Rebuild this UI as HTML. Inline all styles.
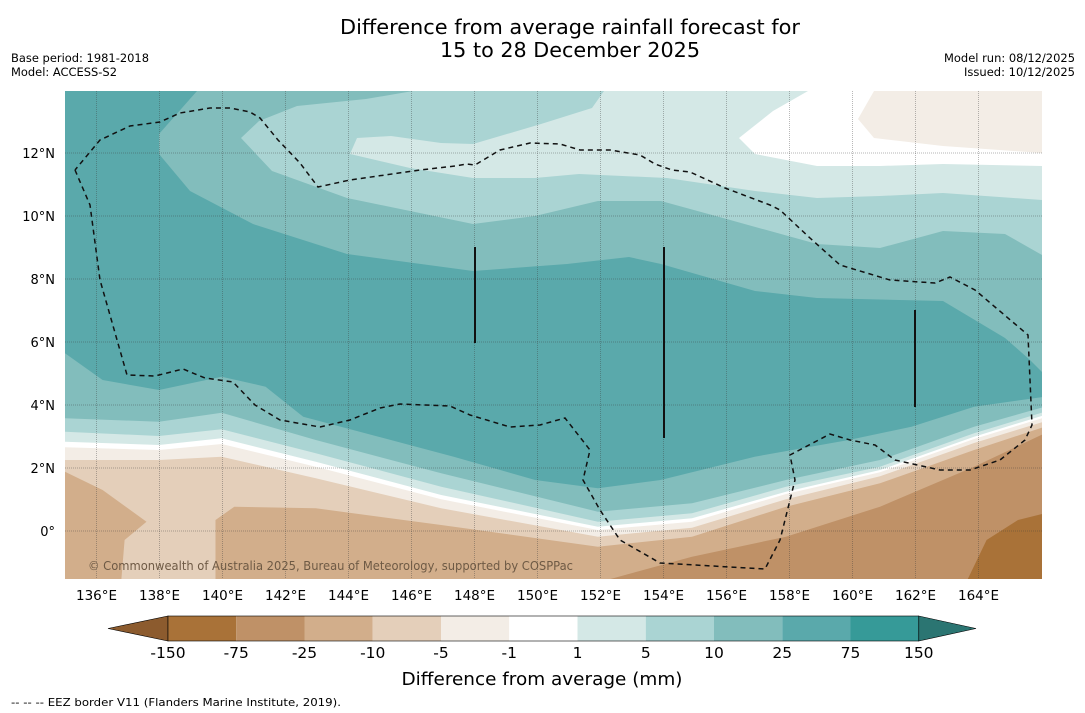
<!DOCTYPE html>
<html><head><meta charset="utf-8">
<style>
body{margin:0;background:#fff;width:1085px;height:713px;overflow:hidden;font-family:"DejaVu Sans","Liberation Sans",sans-serif;}
svg{position:absolute;left:0;top:0}
</style></head>
<body>
<svg id="chart" width="1085" height="713" viewBox="0 0 1085 713" xmlns="http://www.w3.org/2000/svg" font-family="DejaVu Sans, Liberation Sans, sans-serif">
<defs><clipPath id="mapclip"><rect x="65" y="91" width="977" height="488"/></clipPath></defs>
<text x="570" y="34" text-anchor="middle" font-size="20" textLength="460" lengthAdjust="spacingAndGlyphs" fill="#000">Difference from average rainfall forecast for</text>
<text x="570" y="57" text-anchor="middle" font-size="20" textLength="260" lengthAdjust="spacingAndGlyphs" fill="#000">15 to 28 December 2025</text>
<text x="11" y="62" font-size="11.5" textLength="138" lengthAdjust="spacingAndGlyphs">Base period: 1981-2018</text>
<text x="11" y="76" font-size="11.5" textLength="106" lengthAdjust="spacingAndGlyphs">Model: ACCESS-S2</text>
<text x="1075" y="62" font-size="11.5" text-anchor="end" textLength="131" lengthAdjust="spacingAndGlyphs">Model run: 08/12/2025</text>
<text x="1075" y="76" font-size="11.5" text-anchor="end" textLength="111" lengthAdjust="spacingAndGlyphs">Issued: 10/12/2025</text>
<g id="map" clip-path="url(#mapclip)">
<rect x="65" y="91" width="977" height="488" fill="#5aa9ab"/>
</g>
<g id="axes"></g>
<g id="colorbar"></g>
<text x="542" y="685" text-anchor="middle" font-size="18" textLength="281" lengthAdjust="spacingAndGlyphs">Difference from average (mm)</text>
<text x="11" y="706" font-size="11" textLength="330" lengthAdjust="spacingAndGlyphs">--  --  -- EEZ border V11 (Flanders Marine Institute, 2019).</text>
</svg>
<script>
const lonTicks=[136,138,140,142,144,146,148,150,152,154,156,158,160,162,164];
const latTicks=[0,2,4,6,8,10,12];
const levels=["-150","-75","-25","-10","-5","-1","1","5","10","25","75","150"];
const binColors=["#a97238","#bf9167","#d2ae8b","#e4cfba","#f3ede6","#ffffff","#d4e8e6","#aad4d3","#82bdbc","#5aa9ab","#369a98"];
const lowColor="#8c5b2e", highColor="#2b7572";
const NS="http://www.w3.org/2000/svg";
function lonX(l){return 65+(l-135)*31.5;}
function latY(l){return 531-l*31.5;}
function mk(tag,attrs,parent){const e=document.createElementNS(NS,tag);for(const k in attrs)e.setAttribute(k,attrs[k]);parent.appendChild(e);return e;}
const map=document.getElementById('map');
function z2(p){return [65+p[0]/1.595,340+p[1]/3];}
function poly(pts,fill,name){const e=mk('polygon',{points:pts.map(p=>p[0].toFixed(1)+','+p[1].toFixed(1)).join(' '),fill:fill},map);

}
poly([[197,91],[159,134],[159,154],[190,191],[253,224],[347,254],[473,271],[567,264],[629,257],[661,264],[755,291],[817,298],[943,301],[1005,338],[1030,360],[1042,372],[1042,91]],binColors[8],'contour-10-25-north');
poly([[413,91],[366,99],[297,106],[259,121],[241,138],[272,171],[347,198],[473,224],[535,216],[598,201],[661,201],[723,218],[817,244],[880,248],[943,231],[1005,234],[1042,255],[1042,91]],binColors[7],'contour-5-10-north');
poly([[604,91],[592,108],[541,124],[473,144],[441,143],[391,136],[357,138],[350,154],[410,168],[473,178],[535,178],[579,174],[667,178],[755,191],[817,198],[880,196],[943,193],[1042,200],[1042,91]],binColors[6],'contour-1-5-north');
poly([[808,91],[773,111],[739,138],[755,154],[817,166],[880,166],[943,164],[1042,166],[1042,91]],binColors[5],'contour-neutral-north');
poly([[874,91],[858,119],[874,138],[943,146],[1042,153],[1042,91]],binColors[4],'contour-dry-north');
const B=[0,717],C=[1563,717];
poly([[0,40],[60,120],[150,150],[250,110],[320,140],[380,230],[500,290],[620,350],[750,420],[850,445],[950,420],[1100,350],[1250,300],[1350,260],[1450,200],[1563,170],C,B].map(z2),binColors[8],'contour-10-25-south');
const xs=[0,150,250,400,600,850,1000,1150,1300,1450,1563];
const bands=[[235,245,218,300,400,515,490,420,360,260,200],[275,288,268,340,440,545,520,440,380,280,215],[305,315,295,365,465,560,535,455,390,290,225],[322,330,312,380,478,570,545,462,397,297,232],[360,360,350,415,505,590,563,478,409,309,244]];
const bandCols=[7,6,5,4,3];
bands.forEach((b,i)=>{poly(xs.map((x,j)=>[x,b[j]]).concat([C,B]).map(z2),binColors[bandCols[i]],'contour-band-south-'+i);});
poly([[0,395],[60,450],[130,545],[95,600],[90,717],[0,717]].map(z2),binColors[2],'contour-10-25-dry-west');
poly([[240,540],[270,500],[400,505],[600,555],[850,620],[1000,590],[1150,500],[1300,430],[1450,330],[1563,260],C,[240,717]].map(z2),binColors[2],'contour-10-25-dry-south');
poly([[870,717],[1000,650],[1150,590],[1300,500],[1450,380],[1563,280],C].map(z2),binColors[1],'contour-25-75-dry');
poly([[1440,717],[1470,600],[1520,540],[1563,520],C].map(z2),binColors[0],'contour-75-150-dry');
lonTicks.forEach(l=>{const g=mk('line',{x1:lonX(l),x2:lonX(l),y1:91,y2:579,stroke:'rgba(60,60,60,0.45)','stroke-width':0.8,'stroke-dasharray':'1,1'},map);

});
latTicks.forEach(l=>{const g=mk('line',{x1:65,x2:1042,y1:latY(l),y2:latY(l),stroke:'rgba(60,60,60,0.5)','stroke-width':0.8,'stroke-dasharray':'1,1'},map);

});
const eez=[[75,170],[90,205],[100,280],[127,375],[155,376],[183,369],[205,378],[233,382],[255,405],[280,420],[320,427],[350,420],[380,408],[400,404],[450,406],[470,415],[510,427],[540,425],[565,418],[590,450],[583,480],[600,510],[620,540],[660,563],[765,569],[780,540],[795,480],[790,455],[830,434],[850,440],[875,445],[895,460],[940,470],[970,470],[1000,460],[1025,440],[1032,425],[1028,335],[975,290],[950,277],[935,283],[890,280],[840,265],[810,238],[780,210],[770,205],[725,188],[690,172],[672,170],[655,164],[640,155],[610,150],[580,150],[560,144],[530,143],[500,150],[475,165],[467,164],[455,166],[420,170],[350,180],[318,187],[300,163],[278,140],[260,118],[250,112],[230,108],[210,108],[180,113],[160,122],[130,126],[100,140],[75,170]];
const ez=mk('polyline',{points:eez.map(p=>p.join(',')).join(' '),fill:'none',stroke:'#111','stroke-width':1.5,'stroke-dasharray':'5,4'},map);


[[475,247,343],[664,247,438],[915,310,407]].forEach((v,i)=>{const l=mk('line',{x1:v[0],x2:v[0],y1:v[1],y2:v[2],stroke:'#111','stroke-width':2},map);

});
const cp=mk('text',{x:88,y:570,'font-size':12,fill:'#6e5a45',textLength:485,lengthAdjust:'spacingAndGlyphs'},map);cp.textContent='© Commonwealth of Australia 2025, Bureau of Meteorology, supported by COSPPac';


const axes=document.getElementById('axes');
lonTicks.forEach(l=>{const t=mk('text',{x:lonX(l),y:600,'text-anchor':'middle','font-size':13,textLength:41,lengthAdjust:'spacingAndGlyphs'},axes);t.textContent=l+'°E';

});
latTicks.forEach(l=>{const t=mk('text',{x:55,y:latY(l)+5,'text-anchor':'end','font-size':13},axes);t.textContent=l===0?'0°':l+'°N';

});
const cb=document.getElementById('colorbar');
const cbX0=168,cbW=68.25,cbY=616,cbH=25;
const lt=mk('polygon',{points:`108,${cbY+cbH/2} ${cbX0},${cbY} ${cbX0},${cbY+cbH}`,fill:lowColor,stroke:'#000','stroke-width':0.6},cb);


binColors.forEach((c,i)=>{const r=mk('rect',{x:cbX0+i*cbW,y:cbY,width:cbW,height:cbH,fill:c},cb);

});
const xe=cbX0+binColors.length*cbW;
const rt=mk('polygon',{points:`${xe},${cbY} 976,${cbY+cbH/2} ${xe},${cbY+cbH}`,fill:highColor,stroke:'#000','stroke-width':0.6},cb);


mk('rect',{x:cbX0,y:cbY,width:xe-cbX0,height:cbH,fill:'none',stroke:'#000','stroke-width':0.6},cb);
levels.forEach((lv,i)=>{const t=mk('text',{x:cbX0+i*cbW,y:658,'text-anchor':'middle','font-size':15.5},cb);t.textContent=lv;

});
</script>
</body></html>
